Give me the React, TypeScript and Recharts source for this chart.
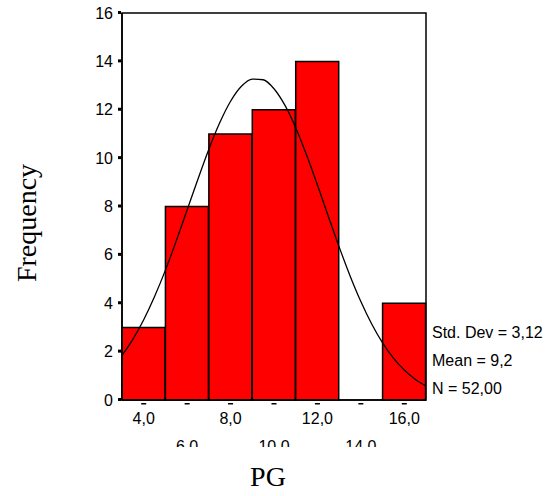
import React from "react";
import {
  ComposedChart,
  Bar,
  Line,
  XAxis,
  YAxis,
  ReferenceArea,
} from "recharts";

// Histogram bins (bin centers) and frequencies
const binLabels = ["4,0", "6,0", "8,0", "10,0", "12,0", "14,0", "16,0"];
const frequencies = [3, 8, 11, 12, 14, 0, 4];

// Normal curve points (x, expected frequency)
const curveX = [3, 3.5, 4, 4.5, 5, 5.5, 6, 6.5, 7, 7.5, 8, 8.5, 9, 9.5, 10, 10.5, 11, 11.5, 12, 12.5, 13, 13.5, 14, 14.5, 15, 15.5, 16, 16.5, 17];
const curveY = [1.85, 2.51, 3.32, 4.28, 5.37, 6.58, 7.86, 9.14, 10.37, 11.46, 12.35, 12.97, 13.27, 13.24, 12.87, 12.19, 11.26, 10.13, 8.89, 7.6, 6.33, 5.14, 4.07, 3.14, 2.36, 1.73, 1.24, 0.86, 0.58];

const yTicks = [0, 2, 4, 6, 8, 10, 12, 14, 16];
const statsLines = ["Std. Dev = 3,12", "Mean = 9,2", "N = 52,00"];

const barData = binLabels.map((b, i) => ({ bin: b, freq: frequencies[i] }));
const lineData = curveX.map((x, i) => ({ x, y: curveY[i] }));

const SANS = "'Liberation Sans', Arial, sans-serif";
const SERIF = "'Liberation Serif', 'Times New Roman', serif";

const XTick = (props: any) => {
  const { x, y, payload, index } = props;
  const lower = index % 2 === 1;
  const id = `xclip-${index}`;
  return (
    <g>
      <defs>
        <clipPath id={id}>
          <rect x={0} y={0} width={548} height={447} />
        </clipPath>
      </defs>
      <rect x={x - 2.5} y={y + 3} width={5} height={1.5} fill="#000" />
      <text
        x={x}
        y={lower ? y + 51.5 : y + 24}
        textAnchor="middle"
        fontFamily={SANS}
        fontSize={16}
        fill="#000"
        clipPath={lower ? `url(#${id})` : undefined}
      >
        {payload.value}
      </text>
    </g>
  );
};

const YTick = (props: any) => {
  const { x, y, payload } = props;
  return (
    <g>
      <rect x={x - 4} y={y - 2} width={3} height={3} fill="#000" />
      <text
        x={x - 9}
        y={y + 5.5}
        textAnchor="end"
        fontFamily={SANS}
        fontSize={16}
        fill="#000"
      >
        {payload.value}
      </text>
    </g>
  );
};

export default function App() {
  return (
    <div style={{ position: "absolute", left: 0, top: 0, width: 548, height: 496, background: "#fff" }}>
      <ComposedChart
        width={548}
        height={496}
        data={barData}
        margin={{ top: 13, right: 122, left: 0, bottom: 0 }}
        barCategoryGap={0}
        barGap={0}
      >
        <XAxis
          xAxisId="cat"
          dataKey="bin"
          type="category"
          height={96}
          axisLine={{ stroke: "#000", strokeWidth: 1.5 }}
          tickLine={false}
          tickSize={0}
          tickMargin={0}
          interval={0}
          tick={<XTick />}
        />
        <XAxis
          xAxisId="num"
          dataKey="x"
          type="number"
          domain={[3, 17]}
          hide
          allowDataOverflow
        />
        <YAxis
          type="number"
          domain={[0, 16]}
          ticks={yTicks}
          width={122}
          axisLine={{ stroke: "#000", strokeWidth: 1.5 }}
          tickLine={false}
          tickSize={0}
          tickMargin={0}
          interval={0}
          tick={<YTick />}
        />
        <ReferenceArea
          xAxisId="num"
          x1={3}
          x2={17}
          y1={0}
          y2={16}
          fill="none"
          fillOpacity={0}
          stroke="#000"
          strokeWidth={1.5}
        />
        <Bar
          xAxisId="cat"
          dataKey="freq"
          fill="#FF0000"
          stroke="#000"
          strokeWidth={1.5}
          isAnimationActive={false}
        />
        <Line
          xAxisId="num"
          data={lineData}
          dataKey="y"
          type="monotone"
          stroke="#000"
          strokeWidth={1.3}
          dot={false}
          activeDot={false}
          isAnimationActive={false}
        />
      </ComposedChart>
      <svg
        width={548}
        height={496}
        style={{ position: "absolute", left: 0, top: 0, pointerEvents: "none" }}
      >
        {statsLines.map((s, i) => (
          <text
            key={s}
            x={432}
            y={338 + i * 28}
            fontFamily={SANS}
            fontSize={16}
            fill="#000"
          >
            {s}
          </text>
        ))}
        <text
          x={36}
          y={223}
          transform="rotate(-90 36 223)"
          textAnchor="middle"
          fontFamily={SERIF}
          fontSize={28}
          fill="#000"
        >
          Frequency
        </text>
        <text x={268} y={486} textAnchor="middle" fontFamily={SERIF} fontSize={28} fill="#000">
          PG
        </text>
      </svg>
    </div>
  );
}
